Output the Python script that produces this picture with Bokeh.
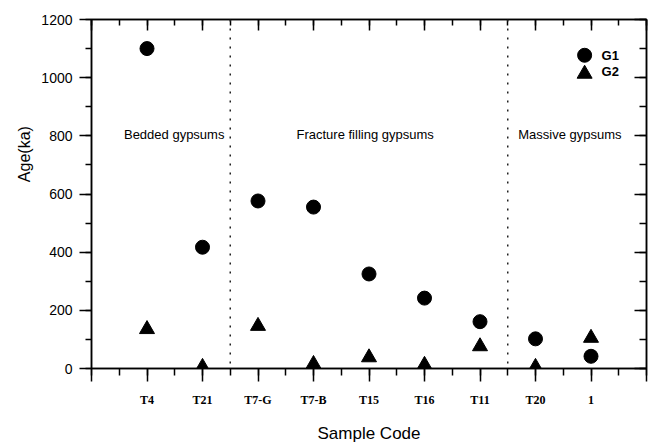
import math
from bokeh.plotting import figure
from bokeh.models import (Range1d, LinearAxis, SingleIntervalTicker, Span, Label,
                          ColumnDataSource)
from bokeh.core.properties import value
from bokeh.embed import file_html
from bokeh.resources import INLINE

# ---- data ----
categories = ["T4", "T21", "T7-G", "T7-B", "T15", "T16", "T11", "T20", "1"]
cat_pos = [1, 2, 3, 4, 5, 6, 7, 8, 9]
g1 = [1100, 417, 576, 555, 325, 242, 161, 102, 42]
g2 = [135, 5, 146, 15, 38, 12, 76, 5, 105]
group_names = ["Bedded gypsums", "Fracture filling gypsums", "Massive gypsums"]
group_label_x = [1.49, 4.93, 8.62]
group_label_y = [806, 806, 806]
boundaries = [2.5, 7.5]
y_ticks_interval = 200

SANS = "Liberation Sans"
SERIF = "Liberation Serif"

p = figure(width=649, height=445, x_range=Range1d(0, 10), y_range=Range1d(0, 1200),
           output_backend="svg", toolbar_location=None,
           min_border_left=91, min_border_right=3, min_border_top=19, min_border_bottom=73)
p.background_fill_color = "white"
p.border_fill_color = "white"
p.xgrid.grid_line_color = None
p.ygrid.grid_line_color = None
p.outline_line_color = "black"
p.outline_line_width = 1.5

# bottom axis
xa = p.xaxis[0]
xa.ticker = SingleIntervalTicker(interval=1, num_minor_ticks=2)
overrides = {0: "", 10: ""}
for pos, c in zip(cat_pos, categories):
    overrides[pos] = c
xa.major_label_overrides = overrides
xa.major_label_text_font = SERIF
xa.major_label_text_font_style = "bold"
xa.major_label_text_font_size = "12px"
xa.major_label_text_color = "black"
xa.major_label_standoff = 11
xa.major_tick_out = 13
xa.major_tick_in = 0
xa.minor_tick_out = 7
xa.minor_tick_in = 0
xa.axis_line_width = 1.5
xa.major_tick_line_width = 1.5
xa.minor_tick_line_width = 1.5
xa.axis_label = "Sample Code"
xa.axis_label_text_font = SANS
xa.axis_label_text_font_style = "normal"
xa.axis_label_text_font_size = "17px"
xa.axis_label_text_color = "black"
xa.axis_label_standoff = 14

# left axis
ya = p.yaxis[0]
ya.ticker = SingleIntervalTicker(interval=y_ticks_interval, num_minor_ticks=2)
ya.major_label_text_font = SANS
ya.major_label_text_font_size = "14px"
ya.major_label_text_color = "black"
ya.major_label_standoff = 7
ya.major_tick_out = 12
ya.major_tick_in = 0
ya.minor_tick_out = 6
ya.minor_tick_in = 0
ya.axis_line_width = 1.5
ya.major_tick_line_width = 1.5
ya.minor_tick_line_width = 1.5

# top axis (ticks inward, no labels)
ta = LinearAxis(ticker=SingleIntervalTicker(interval=1, num_minor_ticks=2),
                major_label_overrides={i: "" for i in range(0, 11)},
                major_label_standoff=0,
                major_tick_out=0, major_tick_in=11, minor_tick_out=0, minor_tick_in=6,
                axis_line_width=1.5, major_tick_line_width=1.5, minor_tick_line_width=1.5)
p.add_layout(ta, "above")

# right axis (ticks inward, no labels)
ra = LinearAxis(ticker=SingleIntervalTicker(interval=y_ticks_interval, num_minor_ticks=2),
                major_label_overrides={v: "" for v in range(0, 1201, 200)},
                major_label_standoff=0,
                major_tick_out=0, major_tick_in=12, minor_tick_out=0, minor_tick_in=7,
                axis_line_color="black", axis_line_width=1.5,
                major_tick_line_width=1.5, minor_tick_line_width=1.5)
p.add_layout(ra, "right")

# y axis label placed in the left side panel (not clipped by the frame)
p.add_layout(Label(x=-1.2, y=737, text="Age(ka)", angle=math.pi / 2,
                   text_align="center", text_baseline="middle",
                   text_font=SANS, text_font_size="16px", text_color="black"), "left")

# group boundaries
for b in boundaries:
    p.add_layout(Span(location=b, dimension="height", line_color="#222222",
                      line_width=1.5, line_dash="2 7"))

# group labels
p.text(x=group_label_x, y=group_label_y, text=group_names,
       text_font=value(SANS), text_font_size="13px", text_color="black",
       text_align="center", text_baseline="middle")

# data
src = ColumnDataSource(dict(x=cat_pos, g1=g1, g2=g2))
p.scatter("x", "g1", source=src, marker="circle", size=14, color="black")
p.scatter("x", "g2", source=src, marker="triangle", size=15, color="black")

# legend
leg_x = [8.885, 8.885]
leg_y = [1077, 1013]
p.scatter([leg_x[0]], [leg_y[0]], marker="circle", size=14, color="black")
p.scatter([leg_x[1]], [leg_y[1]], marker="triangle", size=15, color="black")
p.text(x=[9.19, 9.19], y=[1077, 1020], text=["G1", "G2"],
       text_font=value(SANS), text_font_size="13px", text_font_style="bold",
       text_color="black", text_align="left", text_baseline="middle")

open("out.html", "w").write(file_html(p, INLINE))
